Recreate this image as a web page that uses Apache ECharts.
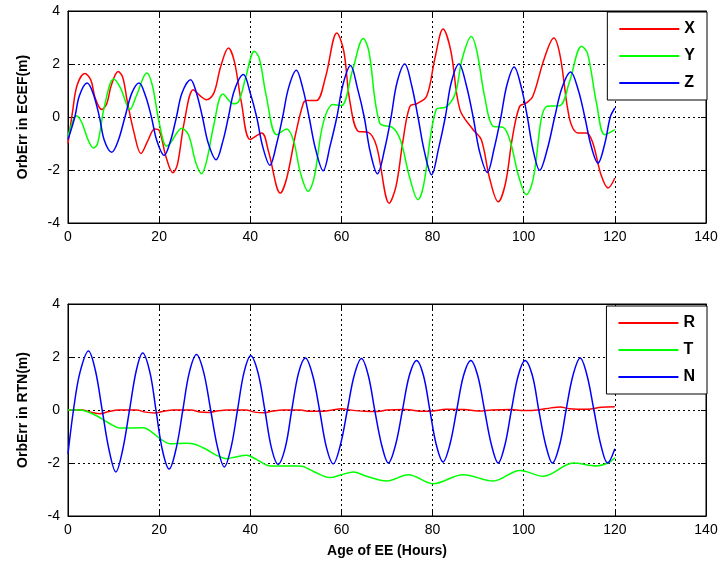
<!DOCTYPE html>
<html><head><meta charset="utf-8">
<script src="https://cdn.jsdelivr.net/npm/echarts@6/dist/echarts.min.js"></script>
<style>html,body{margin:0;padding:0;background:#fff}#c{width:727px;height:573px}</style>
</head><body><div id="c"></div>
<script>
// Top panel (ECEF)
const xHours = [0,1,2,3.7,5,6,7.4,8.5,9.5,11,12,13,14.5,16,17.5,19,20,21.5,23,24,25.5,27.5,29,30.4,32,33.5,35.2,36.5,38,40,42.5,44,46.6,48,50,51.6,52.3,54.5,56.5,59,60.5,61.8,63.7,65.9,67.7,70.5,72,73.5,75,76.5,78.7,80.5,82.3,84,86,88.9,90.7,92.5,94.4,96,97.5,99.1,100.6,102,104.5,106.6,108,110.1,111.9,113.8,115.2,117,118.5,120];
const xVals  = [-1.0,0.2,1.2,1.64,1.4,0.7,0.28,0.5,1.2,1.72,1.5,0.6,-0.6,-1.38,-0.9,-0.45,-0.5,-1.5,-2.1,-1.8,-0.2,1.03,0.8,0.65,0.9,1.9,2.6,2.1,0.6,-0.85,-0.6,-1.3,-2.87,-2.3,-0.6,0.5,0.62,0.62,1.5,3.17,2.5,0.65,-0.54,-0.58,-1.1,-3.25,-2.6,-0.9,0.4,0.5,0.78,2.2,3.32,2.5,0.28,-0.48,-0.86,-2.3,-3.2,-2.5,-0.8,0.4,0.53,0.78,2.2,2.98,2.3,-0.1,-0.6,-0.6,-1.0,-2.2,-2.68,-2.3];
const yHours = [0,1.9,3,4.5,5.6,6.5,8,10,11.5,13.6,15,17.3,18.5,20,21.6,22.4,25,26.5,28,29.3,30.5,32,34,36.3,37.5,39,40.9,42,43.5,45.8,48,49.5,51,52.7,54,56,58.2,60,62.5,64.8,66,68.4,71.3,73,75,76.8,78,80.8,83,85,86.5,88.5,89.7,91.5,93.3,95.5,97,99,100.6,102,105,107.9,110,112.7,114,116,117.8,120];
const yVals  = [-0.73,0.05,-0.2,-0.9,-1.17,-1.0,0.4,1.43,1.1,0.28,0.8,1.66,1.2,-0.2,-1.1,-1.0,-0.42,-0.7,-1.7,-2.14,-1.6,-0.3,0.87,0.5,0.6,1.5,2.48,2.2,0.8,-0.67,-0.45,-0.9,-2.1,-2.8,-2.3,-0.23,0.47,0.43,1.8,2.96,2.5,-0.23,-0.41,-0.9,-2.3,-3.12,-2.6,0.28,0.38,0.9,2.2,3.04,2.5,0.7,-0.35,-0.39,-0.9,-2.3,-2.93,-2.4,0.4,0.43,1.3,2.67,2.4,0.5,-0.67,-0.48];
const zHours = [0,1.5,2.5,4.2,5.5,6.9,8,9.6,11,12.5,14,15.6,17,18.3,19.5,21.1,22.5,23.8,25,26.9,28.2,29.5,30.8,32.5,34,35.2,36.5,38.5,40,41.4,42.7,44.3,45.8,47.1,48.4,50.1,51.5,52.9,54.3,56,57.5,59,60.3,62,63.5,65,66.3,67.9,69.5,70.9,72.2,73.9,75.4,76.8,78.2,79.8,81.3,82.8,84.1,85.8,87.4,88.9,90.3,92,93.5,95,96.3,97.9,99.5,100.8,102,103.5,105.2,106.8,108.4,110.3,112,113.4,114.8,116.3,117.8,119,120];
const zVals  = [-0.85,0.0,0.8,1.28,0.9,0.0,-0.9,-1.33,-0.9,0.0,0.9,1.28,0.8,0.0,-0.9,-1.45,-0.9,0.0,0.9,1.41,0.9,0.0,-1.0,-1.61,-0.9,0.0,1.0,1.6,0.9,0.0,-1.1,-1.82,-1.0,0.0,1.1,1.76,1.1,0.0,-1.2,-2.03,-1.1,0.0,1.2,1.94,1.1,0,-1.3,-2.14,-1.2,0,1.3,2.0,1.2,0,-1.3,-2.18,-1.2,0,1.3,2.0,1.2,0,-1.3,-2.09,-1.2,0,1.2,1.89,1.1,0,-1.2,-2.01,-1.2,0,1.1,1.7,1.0,0,-1.1,-1.74,-1.0,0,0.34];
// Bottom panel (RTN)
const rHours = [0,3,5,7,9,11,15,17,19,21,23,27,29,31,33,35,39,41,43,45,47,51,53,56,58,60,62,65,68,70,74,78,80,83,87,90,93,97,100,103,106,108,110,114,117,120];
const rVals  = [0,0,-0.08,-0.14,-0.06,0,0,-0.08,-0.11,-0.05,0,0,-0.08,-0.09,-0.03,0,0,-0.08,-0.1,-0.04,0,0,-0.05,-0.05,0,0.05,0,-0.05,-0.06,0,0.02,-0.05,-0.04,0.03,0.02,-0.04,0,0.02,-0.02,0,0.08,0.11,0.05,0.03,0.1,0.12];
const tHours = [0,2.6,5.6,9.2,11.4,16.5,18.5,20.2,22.4,26,28,30.5,32.6,34.8,36.5,39.2,41.5,44.3,48,50.9,54,57.5,60,62.6,65.5,69.9,74.7,80.1,86.7,93.3,99.2,104.3,110.9,116,118.5,120];
const tVals  = [0,0,-0.16,-0.52,-0.68,-0.67,-0.85,-1.08,-1.27,-1.25,-1.3,-1.5,-1.71,-1.84,-1.78,-1.71,-1.88,-2.11,-2.11,-2.11,-2.33,-2.55,-2.44,-2.34,-2.5,-2.68,-2.44,-2.78,-2.44,-2.68,-2.28,-2.5,-2.0,-2.11,-2.0,-1.8];
const nHours = [0,1.2,2.6,4.5,6,7.5,9,10.5,12,13.5,15,16.4,18,19.3,20.7,22.2,23.8,25.2,26.6,28.2,29.8,31.3,32.8,34.3,35.8,37.2,38.6,40.1,41.7,43.2,44.6,46.1,47.7,49.1,50.6,52.1,53.7,55.2,56.7,58.2,59.8,61.3,62.8,64.4,65.9,67.3,68.8,70.3,71.9,73.4,74.9,76.5,78,79.4,80.8,82.3,83.8,85.3,86.8,88.4,89.9,91.4,92.9,94.4,95.9,97.3,98.8,100.3,101.9,103.3,104.8,106.3,107.9,109.3,110.8,112.4,113.9,115.4,116.9,118.4,120];
const nVals  = [-1.65,0,1.4,2.23,1.5,0,-1.5,-2.34,-1.5,0,1.5,2.15,1.4,0,-1.5,-2.23,-1.4,0,1.4,2.09,1.4,0,-1.4,-2.15,-1.4,0,1.4,2.05,1.4,0,-1.4,-2.05,-1.4,0,1.4,1.96,1.3,0,-1.4,-2.03,-1.3,0,1.3,1.94,1.3,0,-1.3,-2.0,-1.3,0,1.3,1.87,1.3,0,-1.3,-1.96,-1.3,0,1.3,1.87,1.3,0,-1.3,-2.0,-1.3,0,1.3,1.87,1.3,0,-1.3,-2.0,-1.3,0,1.3,1.96,1.3,0,-1.3,-2.0,-1.46];
const xTicks = [0,20,40,60,80,100,120,140];
const yTicks = [-4,-2,0,2,4];

const pair = (h, v) => h.map((x, i) => [x, v[i]]);
const FONT = 'Liberation Sans, Arial, sans-serif';
const dotted = {show:true, lineStyle:{color:'#000', type:[2,3], width:1}};

function xAx(grid, pos, labels, name) {
  return {type:'value', gridIndex:grid, position:pos, min:xTicks[0], max:xTicks[xTicks.length-1], interval:20,
    axisLine:{show:true, onZero:false, lineStyle:{color:'#000', width:1}},
    axisTick:{show:true, inside:true, length:5, lineStyle:{color:'#000'}},
    axisLabel:{show:labels, color:'#000', fontSize:14, fontFamily:FONT, margin:7},
    splitLine: labels ? dotted : {show:false},
    name: name || '', nameLocation:'middle', nameGap:28,
    nameTextStyle:{color:'#000', fontSize:14, fontWeight:'bold', fontFamily:FONT}};
}
function yAx(grid, pos, labels, name) {
  return {type:'value', gridIndex:grid, position:pos, min:yTicks[0], max:yTicks[yTicks.length-1], interval:2,
    axisLine:{show:true, onZero:false, lineStyle:{color:'#000', width:1}},
    axisTick:{show:true, inside:true, length:5, lineStyle:{color:'#000'}},
    axisLabel:{show:labels, color:'#000', fontSize:14, fontFamily:FONT, margin:8},
    splitLine: labels ? dotted : {show:false},
    name: name || '', nameLocation:'middle', nameGap:38, nameRotate:90,
    nameTextStyle:{color:'#000', fontSize:14, fontWeight:'bold', fontFamily:FONT}};
}
function ser(name, h, v, color, xi, yi) {
  return {name, type:'line', xAxisIndex:xi, yAxisIndex:yi, data:pair(h, v), showSymbol:false, symbol:'none',
    smooth:0.35, lineStyle:{color, width:1.5}, itemStyle:{color}, animation:false};
}
const legendCommon = {orient:'vertical', right:20, icon:'rect', itemWidth:60, itemHeight:2, itemGap:11,
  backgroundColor:'#fff', borderColor:'#000', borderWidth:1, padding:[9,12,9,12],
  textStyle:{color:'#000', fontSize:16, fontWeight:'bold', fontFamily:FONT, lineHeight:16}};

const chart = echarts.init(document.getElementById('c'), null, {renderer:'canvas'});
chart.setOption({
  animation:false,
  backgroundColor:'#fff',
  grid:[
    {left:68, right:21, top:11, height:212, show:true, borderColor:'#000', borderWidth:1},
    {left:68, right:21, top:304, height:212, show:true, borderColor:'#000', borderWidth:1}
  ],
  xAxis:[xAx(0,'bottom',true), xAx(0,'top',false), xAx(1,'bottom',true,'Age of EE (Hours)'), xAx(1,'top',false)],
  yAxis:[yAx(0,'left',true,'OrbErr in ECEF(m)'), yAx(0,'right',false), yAx(1,'left',true,'OrbErr in RTN(m)'), yAx(1,'right',false)],
  legend:[
    Object.assign({top:12, data:['X','Y','Z']}, legendCommon),
    Object.assign({top:306, data:['R','T','N']}, legendCommon)
  ],
  series:[
    ser('X', xHours, xVals, '#ff0000', 0, 0),
    ser('Y', yHours, yVals, '#00ff00', 0, 0),
    ser('Z', zHours, zVals, '#0000ff', 0, 0),
    ser('R', rHours, rVals, '#ff0000', 2, 2),
    ser('T', tHours, tVals, '#00ff00', 2, 2),
    ser('N', nHours, nVals, '#0000ff', 2, 2)
  ]
});
</script></body></html>
